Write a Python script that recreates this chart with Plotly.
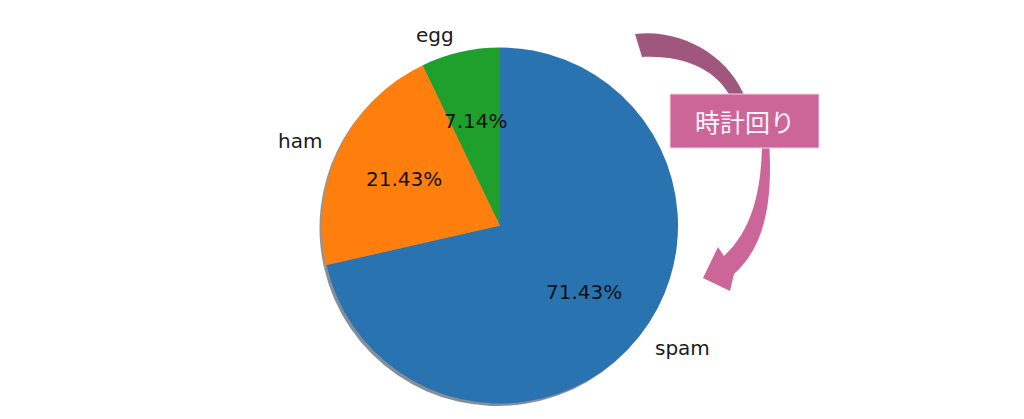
import numpy as np
import plotly.graph_objects as go

# pie data
labels = ["spam", "ham", "egg"]
values = [10, 3, 1]
colors = ["#2a73b1", "#ff7f0e", "#1fa02d"]
note_text = "時計回り"

W, H = 1024, 419
PAD = 8                       # page body margin of the browser
FW, FH = W - 2 * PAD, H - 2 * PAD
cx, cy, r = 500, 225.5, 178   # pie centre / radius in screen px
sh = 2.5                      # shadow offset

def dom(dx=0, dy=0):
    x0 = cx - r + dx - PAD
    y0 = (H - PAD) - (cy + r + dy)
    return dict(x=[x0 / FW, (x0 + 2 * r) / FW],
                y=[y0 / FH, (y0 + 2 * r) / FH])

def darker(c, f=0.3):
    c = c.lstrip("#")
    rgb = [int(int(c[i:i + 2], 16) * f) for i in (0, 2, 4)]
    return "rgb(%d,%d,%d)" % tuple(rgb)

fig = go.Figure()

# shadow like matplotlib's shadow=True
fig.add_trace(go.Pie(
    values=values, sort=False, direction="clockwise", rotation=0,
    marker=dict(colors=[darker(c) for c in colors]),
    opacity=0.5, textinfo="none", hoverinfo="skip", showlegend=False,
    domain=dom(-sh, sh),
))
fig.add_trace(go.Pie(
    labels=labels, values=values, sort=False, direction="clockwise", rotation=0,
    marker=dict(colors=colors), textinfo="none", showlegend=False,
    domain=dom(),
))

# labels (1.1 r) and percentages (0.6 r), matplotlib style
vals = np.array(values, dtype=float)
fr = vals / vals.sum()
ends = 90 - 360 * np.cumsum(fr)
mids = np.radians(ends + 180 * fr)
annotations = []
for lab, f, a in zip(labels, fr, mids):
    ux, uy = np.cos(a), np.sin(a)
    annotations.append(dict(
        x=cx + 1.1 * r * ux, y=cy - 1.1 * r * uy, xref="x", yref="y",
        text=lab, showarrow=False, xanchor="left" if ux > 0 else "right",
        yanchor="middle", font=dict(size=20, color="#1a1a1a")))
    annotations.append(dict(
        x=cx + 0.6 * r * ux, y=cy - 0.6 * r * uy, xref="x", yref="y",
        text="%.2f%%" % (f * 100), showarrow=False,
        xanchor="center", yanchor="middle", font=dict(size=20, color="#111111")))

annotations.append(dict(
    x=745, y=121, xref="x", yref="y", text=note_text, showarrow=False,
    font=dict(size=25, color="#fff4f9", family="Noto Sans CJK JP")))

shapes = [
    # upper (darker) part of the curved arrow
    dict(type="path", xref="x", yref="y", layer="above", line=dict(width=0),
         fillcolor="#a0577e",
         path="M 635,34 C 680,28 730,55 746,100 L 732,100 C 718,70 685,55 642,57 Z"),
    # lower part with head
    dict(type="path", xref="x", yref="y", layer="above", line=dict(width=0),
         fillcolor="#cc6699",
         path="M 762,140 L 769,140 C 773,200 766,245 734,274 L 730,291 L 703,278 "
              "L 718,247 L 724,256 C 750,232 762,195 762,140 Z"),
    dict(type="rect", xref="x", yref="y", layer="above",
         x0=670, x1=819, y0=94, y1=148,
         fillcolor="#cc6699", line=dict(color="#f3d3e2", width=1)),
]

fig.update_layout(
    width=FW, height=FH,
    margin=dict(l=0, r=0, t=0, b=0),
    paper_bgcolor="white", plot_bgcolor="rgba(0,0,0,0)",
    font=dict(family="DejaVu Sans"),
    xaxis=dict(range=[PAD, W - PAD], visible=False, domain=[0, 1], fixedrange=True),
    yaxis=dict(range=[H - PAD, PAD], visible=False, domain=[0, 1], fixedrange=True),
    annotations=annotations,
    shapes=shapes,
    showlegend=False,
)

fig.write_html("out.html")
